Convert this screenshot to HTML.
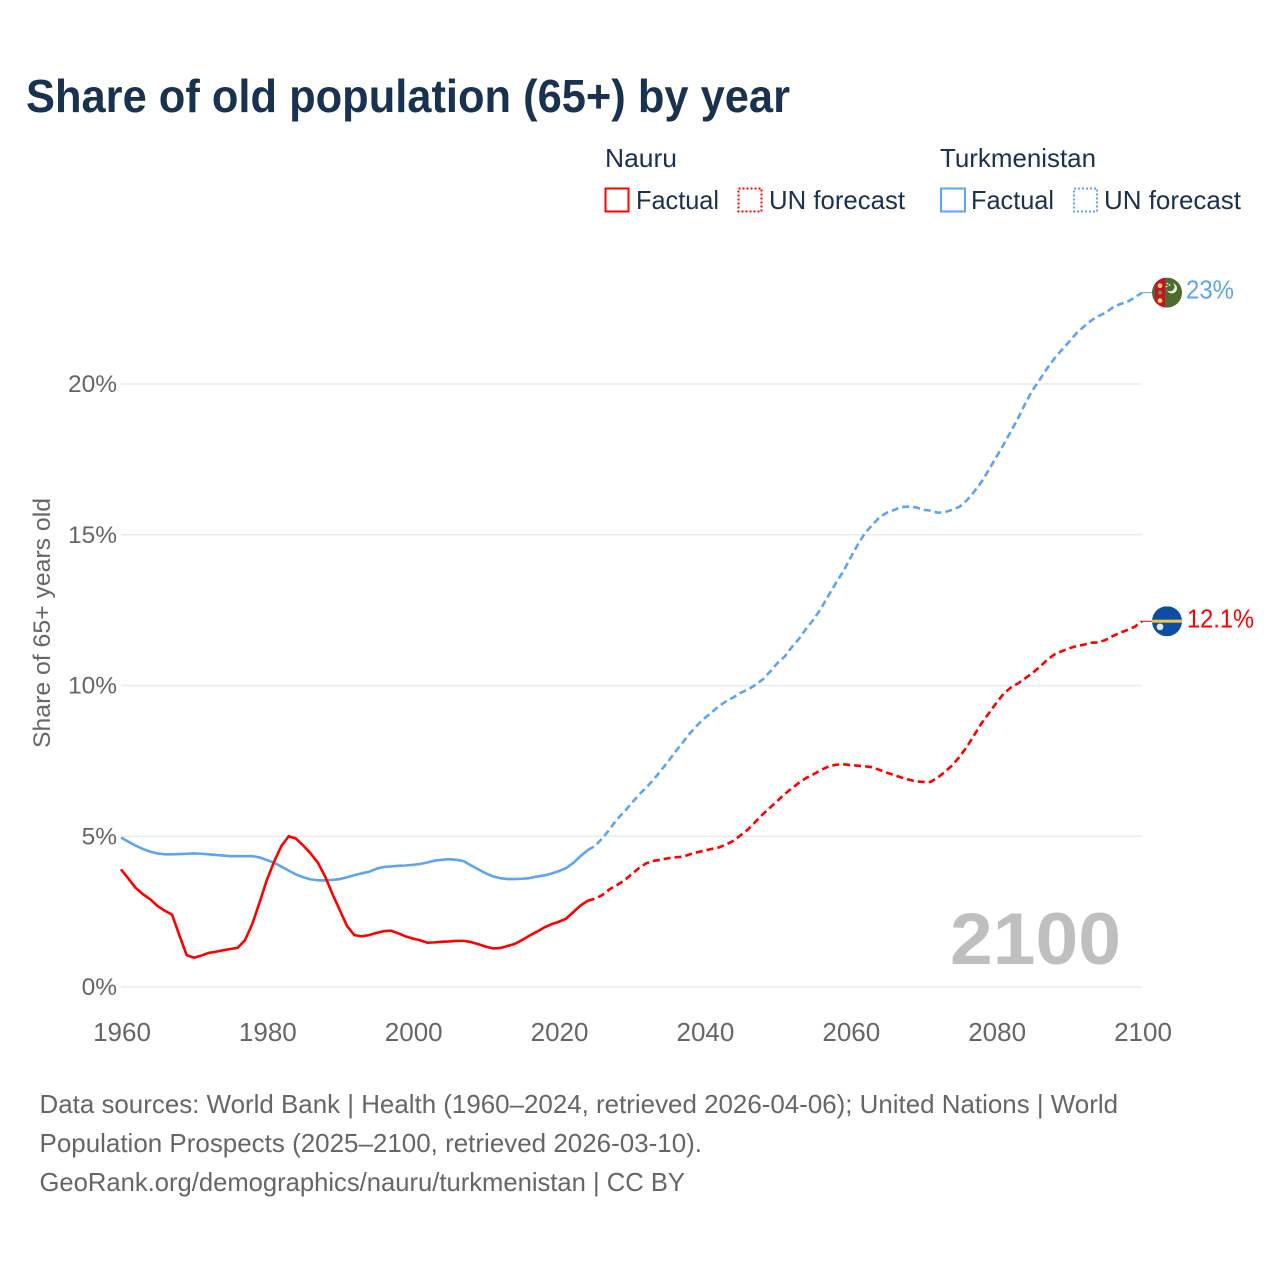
<!DOCTYPE html>
<html lang="en">
<head>
<meta charset="utf-8">
<title>Share of old population (65+) by year</title>
<style>
html,body{margin:0;padding:0;background:#fff;}
svg{display:block;font-family:"Liberation Sans",sans-serif;}
</style>
</head>
<body>
<svg id="chart" width="1280" height="1280" viewBox="0 0 1280 1280" xmlns="http://www.w3.org/2000/svg">
  <rect x="0" y="0" width="1280" height="1280" fill="#ffffff"/>
  <text x="26" y="112" font-size="46" font-weight="700" fill="#18324f" textLength="764" lengthAdjust="spacingAndGlyphs">Share of old population (65+) by year</text>

  <g font-size="26" fill="#18324f">
    <text x="605" y="167" textLength="72" lengthAdjust="spacingAndGlyphs">Nauru</text>
    <rect x="605.5" y="188.5" width="23" height="23" fill="none" stroke="#ff0000" stroke-width="2"/>
    <text x="636" y="209" textLength="83" lengthAdjust="spacingAndGlyphs">Factual</text>
    <rect x="738.5" y="188.5" width="23" height="23" fill="none" stroke="#ff0000" stroke-width="2" stroke-dasharray="2 2"/>
    <text x="769" y="209" textLength="136" lengthAdjust="spacingAndGlyphs">UN forecast</text>
    <text x="940" y="167" textLength="156" lengthAdjust="spacingAndGlyphs">Turkmenistan</text>
    <rect x="941" y="188.5" width="24" height="23" fill="none" stroke="#5da5ee" stroke-width="2"/>
    <text x="971" y="209" textLength="83" lengthAdjust="spacingAndGlyphs">Factual</text>
    <rect x="1074" y="188.5" width="23" height="23" fill="none" stroke="#5da5ee" stroke-width="2" stroke-dasharray="2 2"/>
    <text x="1104" y="209" textLength="137" lengthAdjust="spacingAndGlyphs">UN forecast</text>
  </g>

  <text transform="translate(50 748) rotate(-90)" x="0" y="0" font-size="24.5" fill="#666666" textLength="250" lengthAdjust="spacingAndGlyphs">Share of 65+ years old</text>

  <g id="grid"></g>
  <g id="yticks"></g>
  <g id="xticks"></g>

  <text x="950" y="964" font-size="73" font-weight="700" fill="#bfbfbf" textLength="171" lengthAdjust="spacingAndGlyphs">2100</text>

  <g id="series"></g>

  <defs>
    <clipPath id="flag-clip"><circle cx="0" cy="0" r="15"/></clipPath>
  </defs>
  <g id="flag-turkmenistan">
    <g clip-path="url(#flag-clip)">
      <rect x="-15" y="-15" width="30" height="30" fill="#4c6b2c"/>
      <rect x="-12" y="-15" width="10" height="30" fill="#c8102e"/>
      <circle cx="-7" cy="-7" r="2.4" fill="#f4d35e"/>
      <circle cx="-7" cy="0" r="2" fill="#7f8f3c"/>
      <circle cx="-7" cy="8" r="2.4" fill="#f4d35e"/>
      <path d="M6-9.5a5.2 5.2 0 1 1-6 7a4.4 4.4 0 0 0 6-7z" fill="#e8efe0"/>
      <circle cx="0.5" cy="-9" r="0.9" fill="#e8efe0"/>
      <circle cx="-0.5" cy="-6" r="0.9" fill="#e8efe0"/>
      <circle cx="2.5" cy="-7.5" r="0.9" fill="#e8efe0"/>
    </g>
  </g>
  <g id="flag-nauru">
    <g clip-path="url(#flag-clip)">
      <rect x="-15" y="-15" width="30" height="30" fill="#0b4ea2"/>
      <rect x="-15" y="-1.6" width="30" height="3" fill="#f6c53c"/>
      <circle cx="-7" cy="5.6" r="3.4" fill="#e6ecf5"/>
    </g>
  </g>
  <g id="endlabels"></g>

  <g font-size="26" fill="#666666">
    <text x="39.5" y="1113" textLength="1078.5" lengthAdjust="spacingAndGlyphs">Data sources: World Bank | Health (1960–2024, retrieved 2026-04-06); United Nations | World</text>
    <text x="39.5" y="1152" textLength="662.5" lengthAdjust="spacingAndGlyphs">Population Prospects (2025–2100, retrieved 2026-03-10).</text>
    <text x="39.5" y="1191" textLength="645.5" lengthAdjust="spacingAndGlyphs">GeoRank.org/demographics/nauru/turkmenistan | CC BY</text>
  </g>
</svg>
<script>
var yTickValues = [0, 5, 10, 15, 20];
var yTickLabels = ['0%', '5%', '10%', '15%', '20%'];
var xTickValues = [1960, 1980, 2000, 2020, 2040, 2060, 2080, 2100];
var xTickLabels = ['1960', '1980', '2000', '2020', '2040', '2060', '2080', '2100'];
var factualStartYear = 1960;
var forecastStartYear = 2024;
var nauruFactual = [3.90,3.60,3.29,3.08,2.91,2.69,2.53,2.40,1.72,1.06,0.97,1.04,1.13,1.17,1.22,1.26,1.30,1.55,2.09,2.80,3.55,4.16,4.68,5.00,4.92,4.69,4.43,4.12,3.66,3.08,2.55,2.02,1.72,1.68,1.72,1.79,1.85,1.87,1.78,1.68,1.61,1.55,1.47,1.48,1.50,1.51,1.53,1.53,1.49,1.42,1.34,1.28,1.29,1.36,1.43,1.56,1.70,1.83,1.97,2.08,2.16,2.26,2.48,2.70,2.86];
var nauruForecast = [2.86,2.93,3.05,3.24,3.38,3.53,3.74,3.94,4.10,4.18,4.22,4.27,4.30,4.32,4.40,4.47,4.52,4.58,4.63,4.73,4.85,5.04,5.23,5.48,5.73,5.95,6.17,6.40,6.59,6.78,6.94,7.06,7.20,7.31,7.37,7.39,7.36,7.34,7.32,7.29,7.20,7.11,7.03,6.95,6.88,6.82,6.80,6.80,6.95,7.14,7.36,7.64,7.97,8.36,8.75,9.08,9.41,9.72,9.93,10.07,10.24,10.42,10.62,10.85,11.03,11.14,11.23,11.31,11.35,11.42,11.43,11.51,11.64,11.75,11.84,11.95,12.13];
var turkmenistanFactual = [4.96,4.82,4.69,4.58,4.49,4.43,4.40,4.40,4.41,4.42,4.43,4.42,4.40,4.38,4.36,4.34,4.34,4.34,4.34,4.30,4.21,4.12,3.99,3.86,3.73,3.64,3.57,3.54,3.54,3.55,3.58,3.64,3.71,3.77,3.82,3.92,3.98,4.00,4.02,4.03,4.05,4.08,4.13,4.19,4.22,4.24,4.22,4.17,4.03,3.90,3.77,3.67,3.61,3.58,3.58,3.59,3.61,3.66,3.70,3.76,3.84,3.94,4.11,4.34,4.54];
var turkmenistanForecast = [4.54,4.68,4.93,5.23,5.56,5.81,6.09,6.37,6.61,6.87,7.17,7.47,7.80,8.10,8.41,8.68,8.91,9.11,9.32,9.48,9.61,9.76,9.87,10.02,10.20,10.46,10.74,10.96,11.28,11.56,11.90,12.20,12.56,12.98,13.39,13.77,14.22,14.66,15.05,15.32,15.58,15.73,15.82,15.92,15.93,15.91,15.83,15.80,15.73,15.75,15.83,15.93,16.15,16.43,16.76,17.15,17.57,17.98,18.42,18.86,19.36,19.80,20.15,20.52,20.85,21.13,21.40,21.68,21.90,22.10,22.25,22.36,22.54,22.65,22.73,22.87,23.03];
var endLabelNauru = '12.1%';
var endLabelTurkmenistan = '23%';

var NS = 'http://www.w3.org/2000/svg';
var PLOT_LEFT = 121, PLOT_RIGHT = 1142, PLOT_BOTTOM = 987, PLOT_TOP = 384;
var RED = '#ff0000', BLUE = '#5da5ee';

function xScale(year) {
  return PLOT_LEFT + (year - 1960) / (2100 - 1960) * (PLOT_RIGHT - PLOT_LEFT);
}
function yScale(value) {
  return PLOT_BOTTOM - value / 20 * (PLOT_BOTTOM - PLOT_TOP);
}
function make(tag, attrs, parent) {
  var el = document.createElementNS(NS, tag);
  for (var k in attrs) { el.setAttribute(k, attrs[k]); }
  parent.appendChild(el);
  return el;
}
function linePath(values, startYear) {
  var d = '';
  for (var i = 0; i < values.length; i++) {
    d += (i ? 'L' : 'M') + xScale(startYear + i).toFixed(2) + ' ' + yScale(values[i]).toFixed(2);
  }
  return d;
}

var grid = document.getElementById('grid');
var yticks = document.getElementById('yticks');
yTickValues.forEach(function (v, i) {
  var line = make('line', {x1: PLOT_LEFT, x2: PLOT_RIGHT, y1: yScale(v), y2: yScale(v), stroke: '#ebebeb', 'stroke-width': 1.6}, grid);
  
  
  var t = make('text', {x: 117, y: yScale(v) + 8, 'text-anchor': 'end', 'font-size': 24.5, fill: '#666666'}, yticks);
  
  
  t.textContent = yTickLabels[i];
});

var xticks = document.getElementById('xticks');
xTickValues.forEach(function (v, i) {
  var t = make('text', {x: xScale(v) + 1, y: 1041, 'text-anchor': 'middle', 'font-size': 26, fill: '#666666'}, xticks);
  
  
  t.textContent = xTickLabels[i];
});

var series = document.getElementById('series');
function drawLine(values, startYear, color, dashed) {
  var attrs = {d: linePath(values, startYear), fill: 'none', stroke: color, 'stroke-width': 2.6, 'stroke-linejoin': 'round'};
  if (dashed) { attrs['stroke-dasharray'] = '7 4'; }
  return make('path', attrs, series);
}
var l1 = drawLine(turkmenistanFactual, factualStartYear, BLUE, false);


var l2 = drawLine(turkmenistanForecast, forecastStartYear, BLUE, true);


var l3 = drawLine(nauruFactual, factualStartYear, RED, false);


var l4 = drawLine(nauruForecast, forecastStartYear, RED, true);



var lastN = nauruForecast[nauruForecast.length - 1];
var lastT = turkmenistanForecast[turkmenistanForecast.length - 1];
var c1 = make('line', {x1: PLOT_RIGHT, x2: 1154, y1: yScale(lastT), y2: yScale(lastT), stroke: BLUE, 'stroke-width': 1}, series);


var c2 = make('line', {x1: PLOT_RIGHT, x2: 1154, y1: yScale(lastN), y2: yScale(lastN), stroke: RED, 'stroke-width': 1}, series);



document.getElementById('flag-turkmenistan').setAttribute('transform', 'translate(1167 ' + yScale(lastT).toFixed(2) + ')');
document.getElementById('flag-nauru').setAttribute('transform', 'translate(1167 ' + yScale(lastN).toFixed(2) + ')');

var endlabels = document.getElementById('endlabels');
var e1 = make('text', {x: 1186, y: yScale(lastT) + 6, 'font-size': 26, fill: BLUE, textLength: 48, lengthAdjust: 'spacingAndGlyphs'}, endlabels);


e1.textContent = endLabelTurkmenistan;
var e2 = make('text', {x: 1187, y: yScale(lastN) + 6, 'font-size': 26, fill: RED, textLength: 67, lengthAdjust: 'spacingAndGlyphs'}, endlabels);


e2.textContent = endLabelNauru;
</script>
</body>
</html>
